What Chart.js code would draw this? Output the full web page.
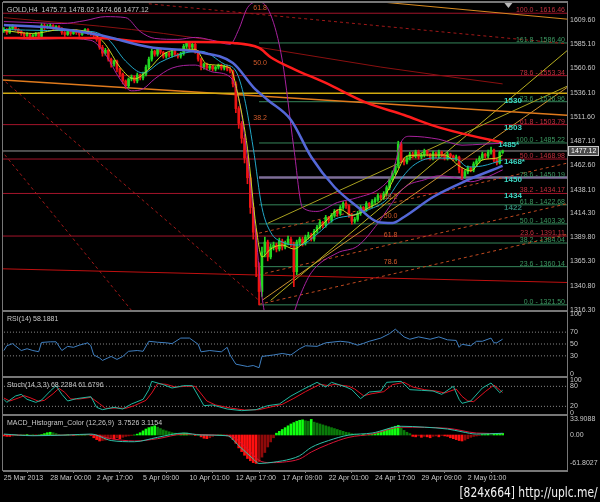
<!DOCTYPE html>
<html>
<head>
<meta charset="utf-8">
<script src="https://cdn.jsdelivr.net/npm/chart.js@4.4.1/dist/chart.umd.min.js"></script>
<style>
html, body { margin: 0; padding: 0; background: #000; width: 600px; height: 502px; overflow: hidden; }
canvas { position: absolute; left: 0; }
#wm { position: absolute; right: 2px; top: 484px; color: #f2f2f2; font: 14px "Liberation Sans Narrow", "DejaVu Sans Condensed", sans-serif; transform: scaleX(0.85); transform-origin: right top; white-space: nowrap; }
</style>
</head>
<body>
<canvas id="cMain" width="600" height="318" style="top:0"></canvas>
<canvas id="cRsi" width="600" height="76" style="top:306px"></canvas>
<canvas id="cSto" width="600" height="48" style="top:372px"></canvas>
<canvas id="cMacd" width="600" height="80" style="top:410px"></canvas>
<div id="wm">[824x664] http://uplc.me/</div>
<script>
// ---- data ----
const symbolName = 'GOLD,H4';
const tickBars = [0, 16, 32, 48, 64, 80, 96, 112, 128, 144, 160];
const tickLabels = ['25 Mar 2013', '28 Mar 00:00', '2 Apr 17:00', '5 Apr 09:00', '10 Apr 01:00', '12 Apr 17:00',
  '17 Apr 09:00', '22 Apr 01:00', '24 Apr 17:00', '29 Apr 09:00', '2 May 01:00'];
const priceTicks = [1609.6, 1585.1, 1560.6, 1536.1, 1511.6, 1487.1, 1462.6, 1438.1, 1414.3, 1389.8, 1365.3, 1340.8, 1316.3];

const open = [1599,1600,1597,1601,1603,1600,1598,1596,1594,1595,
 1592,1594,1596,1593,1604,1602,1603,1604,1602,1603,
 1601,1597,1595,1598,1596,1599,1597,1595,1598,1600,
 1597,1596,1594,1590,1582,1576,1579,1570,1565,1568,
 1560,1555,1548,1543,1550,1552,1548,1554,1551,1555,
 1562,1570,1578,1575,1580,1577,1573,1576,1574,1578,
 1575,1573,1576,1583,1586,1582,1585,1578,1570,1562,
 1565,1561,1563,1560,1562,1564,1561,1563,1560,1558,
 1545,1520,1505,1490,1470,1450,1420,1395,1360,1335,
 1375,1385,1370,1380,1382,1378,1386,1380,1384,1388,
 1383,1355,1385,1388,1384,1390,1392,1388,1396,1400,
 1405,1402,1410,1407,1412,1416,1414,1420,1424,1422,
 1412,1406,1408,1414,1420,1418,1424,1422,1426,1428,
 1432,1430,1434,1440,1448,1455,1462,1484,1468,1466,
 1470,1474,1472,1476,1471,1473,1477,1474,1470,1475,
 1472,1476,1473,1470,1474,1472,1469,1471,1458,1452,
 1456,1460,1458,1464,1467,1470,1474,1472,1476,1478,
 1468,1465,1475.71];
const high = [1602,1601,1603,1605,1604,1601,1599,1597,1597,1596,
 1595,1597,1597,1606,1606,1605,1606,1605,1604,1604,
 1602,1598,1599,1599,1600,1600,1598,1599,1601,1601,
 1598,1597,1595,1591,1584,1581,1580,1571,1569,1569,
 1561,1556,1549,1551,1554,1553,1556,1555,1557,1564,
 1572,1580,1579,1582,1581,1578,1577,1577,1579,1579,
 1576,1577,1585,1588,1587,1586,1586,1579,1571,1566,
 1566,1564,1564,1563,1565,1565,1564,1564,1562,1559,
 1547,1522,1507,1493,1472,1453,1424,1398,1364,1380,
 1390,1387,1383,1385,1384,1389,1388,1386,1391,1390,
 1385,1387,1390,1390,1392,1395,1394,1398,1402,1407,
 1406,1412,1411,1414,1418,1418,1422,1426,1426,1423,
 1414,1410,1416,1422,1421,1426,1425,1428,1430,1434,
 1433,1436,1442,1450,1457,1464,1487,1486,1470,1472,
 1476,1476,1478,1478,1475,1479,1478,1475,1477,1476,
 1478,1477,1474,1476,1475,1473,1473,1472,1460,1458,
 1462,1461,1466,1469,1472,1476,1475,1478,1481,1479,
 1470,1477,1478.02];
const low = [1597,1595,1596,1600,1599,1596,1594,1592,1593,1590,
 1591,1593,1591,1592,1600,1601,1602,1600,1601,1599,
 1595,1593,1594,1594,1595,1595,1593,1594,1597,1595,
 1594,1592,1588,1580,1573,1574,1568,1562,1563,1557,
 1552,1545,1540,1541,1548,1546,1546,1549,1549,1553,
 1560,1568,1573,1573,1575,1571,1571,1572,1572,1573,
 1571,1571,1574,1581,1580,1580,1576,1568,1559,1560,
 1559,1559,1558,1558,1560,1559,1559,1558,1556,1542,
 1516,1500,1485,1465,1444,1414,1388,1350,1321.5,1330,
 1370,1366,1368,1377,1375,1376,1377,1378,1382,1380,
 1340,1352,1382,1381,1382,1388,1386,1386,1394,1398,
 1399,1400,1404,1405,1410,1411,1412,1418,1419,1410,
 1403,1404,1406,1412,1415,1416,1419,1420,1424,1426,
 1428,1428,1432,1438,1446,1453,1460,1465,1463,1464,
 1468,1470,1470,1469,1469,1471,1472,1468,1468,1470,
 1470,1471,1468,1468,1470,1467,1467,1455,1449,1450,
 1454,1456,1456,1462,1465,1468,1470,1470,1474,1466,
 1463,1464,1474.66];
const close = [1600,1597,1601,1603,1600,1598,1596,1594,1595,1592,
 1594,1596,1593,1604,1602,1603,1604,1602,1603,1601,
 1597,1595,1598,1596,1599,1597,1595,1598,1600,1597,
 1596,1594,1590,1582,1576,1579,1570,1565,1568,1560,
 1555,1548,1543,1550,1552,1548,1554,1551,1555,1562,
 1570,1578,1575,1580,1577,1573,1576,1574,1578,1575,
 1573,1576,1583,1586,1582,1585,1578,1570,1562,1565,
 1561,1563,1560,1562,1564,1561,1563,1560,1558,1545,
 1520,1505,1490,1470,1450,1420,1395,1360,1335,1375,
 1385,1370,1380,1382,1378,1386,1380,1384,1388,1383,
 1355,1385,1388,1384,1390,1392,1388,1396,1400,1405,
 1402,1410,1407,1412,1416,1414,1420,1424,1422,1412,
 1406,1408,1414,1420,1418,1424,1422,1426,1428,1432,
 1430,1434,1440,1448,1455,1462,1484,1468,1466,1470,
 1474,1472,1476,1471,1473,1477,1474,1470,1475,1472,
 1476,1473,1470,1474,1472,1469,1471,1458,1452,1456,
 1460,1458,1464,1467,1470,1474,1472,1476,1478,1468,
 1465,1475.71,1477.12];

// moving averages and bands, [bar, price] as read
const maBlue = [[0,1604.5],[17,1601.5],[33,1594.4],[50,1582.3],[67,1577.2],[79,1566.1],[86,1541.8],[91,1528.7],[99,1508.5],
  [106,1471],[114,1440.7],[122,1420.5],[129,1405.3],[134,1404.3],[138,1410.4],[148,1430.6],[160,1447.8],[172,1462]];
const maRed = [[0,1591.4],[33,1591.4],[50,1587.3],[67,1587.3],[79,1586.3],[88,1581.3],[92,1572],[100,1560],[111,1546],
  [125,1526],[138,1513.5],[150,1501],[170,1487],[172,1486]];
const maYellow = [[0,1599],[10,1596],[20,1600],[30,1597],[35,1585],[40,1562],[45,1550],[50,1560],[55,1575],[62,1580],[66,1580],
  [70,1565],[78,1561],[81,1530],[84,1480],[87,1400],[89,1370],[92,1378],[96,1382],[100,1378],[104,1386],[110,1403],[116,1418],
  [120,1412],[126,1420],[131,1430],[135,1452],[139,1472],[145,1473],[152,1473],[157,1462],[161,1457],[165,1468],[170,1470],[172,1473]];
const maCyan = [[0,1600],[15,1599],[30,1598],[36,1590],[42,1568],[48,1556],[54,1567],[62,1576],[68,1578],[76,1565],[80,1558],
  [83,1530],[86,1480],[89,1420],[92,1395],[96,1385],[102,1382],[108,1393],[114,1408],[120,1412],[126,1418],[132,1428],[136,1445],
  [141,1462],[148,1470],[156,1469],[160,1461],[165,1462],[172,1468]];
const maSlow = [[0,1612],[44,1600],[88,1582],[130,1562],[172,1545]];
const bbUpper = [[0,1608],[10,1607],[20,1606],[28,1609],[35,1613],[42,1612],[47,1598],[52,1591],[60,1590],[66,1592],[72,1589],
  [78,1585],[81,1600],[84,1622],[88,1628],[92,1615],[96,1569],[100,1480],[103,1420],[108,1416],[115,1425],[122,1430],[130,1440],
  [134,1455],[137,1486],[140,1492],[150,1489],[158,1483],[165,1484],[172,1485]];
const bbLower = [[0,1592],[10,1590],[20,1591],[30,1589],[35,1575],[40,1550],[44,1538],[48,1540],[52,1550],[58,1561],[66,1564],
  [72,1557],[78,1552],[81,1530],[84,1470],[87,1390],[89,1330],[92,1295],[98,1300],[102,1330],[106,1354],[115,1374],[122,1381],
  [129,1404],[134,1425],[138,1440],[145,1448],[150,1452],[156,1450],[161,1446],[166,1450],[172,1458]];

// drawn objects
const fibRedPct = [100, 78.6, 61.8, 50, 38.2, 23.6];
const fibRedPrice = [1616.46, 1553.34, 1503.79, 1468.98, 1434.17, 1391.11];
const fibGreenPct = [161.8, 23.6, 100, 78.6, 61.8, 50, 38.2, 23.6, 0];
const fibGreenPrice = [1586.40, 1526.96, 1485.22, 1450.19, 1422.68, 1403.36, 1384.04, 1360.14, 1321.50];
const fibTopPct = ['61.8', '50.0', '38.2'];
const fibTopPrice = [1618, 1562, 1506.4];
const fibInnerPct = ['38.2', '50.0', '61.8', '78.6'];
const fibInnerPrice = [1422.68, 1403.36, 1384.04, 1356.53];
const pivotText = ['1530', '1503', '1485*', '1468*', '1450', '1434', '1422'];
const pivotPrice = [1530, 1503, 1485, 1468, 1450, 1434, 1422];
const goldLine = [[-1, 1535.6], [196, 1535.6]];
const orangeLine = [[-1, 1549], [196, 1513]];
const orangeTop = [[100, 1636], [196, 1610]];
const redLow = [[-1, 1358], [196, 1344]];
const redDashDown1 = [[-1, 1551], [88, 1326]];
const redDashDown2 = [[-1, 1478], [44, 1316]];
const redDashTop = [[50, 1626], [196, 1585]];
const yellowRay = [[92, 1326], [196, 1583]];
const chanUpper = [[91, 1404], [196, 1545]];
const chanLower = [[89, 1326], [196, 1545]];
const dashChan = [[[88, 1394], [196, 1466]], [[88, 1352], [196, 1425]], [[88, 1322], [196, 1394]]];

// oscillators
const rsiPts = [[0,39],[1,47],[3,50.6],[6,39],[8,42],[10,39],[12,37],[13,52.6],[16,53.7],[18,53.7],[20,39],[22,46],[24,44.4],
  [26,48],[29,52],[30,47],[31,31.5],[33,26.5],[34,22.3],[37,29],[39,24],[41,29],[43,37.7],[46,39],[48,37.7],[50,54.6],[53,53],
  [56,52],[58,50.6],[61,60],[64,60],[67,49.5],[68,36.8],[71,39],[75,36.8],[77,44.4],[78,31.5],[80,16],[84,12],[86,13.7],[88,10],
  [89,29],[93,31.5],[96,34],[99,31.5],[102,42],[104,47],[108,46],[111,52],[116,54.6],[119,53],[122,48],[124,51],[126,54.6],
  [130,60],[133,67.5],[135,75],[138,62],[140,58],[143,62],[147,58],[150,62],[153,57],[156,56],[157,44.4],[158,49.5],[161,47],
  [163,54.6],[165,54.6],[168,60],[169,52],[170,52],[172,58.1881]];
const rsiLevels = [70, 50, 30];
const stoK = [[0,41],[1,32],[4,51],[6,56],[8,41],[11,32],[13,39],[16,66],[18,82],[20,56],[22,36],[25,43],[30,49],[32,17],[34,10],
  [38,17],[41,12],[44,27],[48,41],[50,70],[51,95],[55,85],[58,75],[62,82],[65,82],[69,22],[72,24],[77,12],[82,7],[87,10],[91,22],
  [95,27],[99,51],[103,70],[108,92],[111,78],[113,92],[118,78],[120,70],[123,43],[126,63],[130,66],[132,92],[137,95],[140,70],
  [144,68],[148,66],[151,56],[155,80],[157,41],[158,29],[161,36],[165,75],[168,90],[171,61],[172,68.2284]];
const stoD = [[0,45],[2,36],[5,45],[7,52],[9,46],[12,35],[14,38],[17,58],[19,74],[21,62],[23,42],[26,42],[30,47],[33,28],[35,14],
  [39,15],[42,14],[45,22],[49,38],[51,60],[53,88],[56,86],[59,78],[63,80],[66,80],[70,36],[73,24],[78,15],[83,9],[88,10],[92,18],
  [96,26],[100,44],[104,64],[109,86],[112,82],[114,86],[119,80],[121,72],[124,52],[127,58],[131,64],[134,85],[138,92],[141,78],
  [145,70],[149,66],[152,60],[156,72],[158,50],[160,36],[162,34],[166,64],[169,84],[172,61.6796]];
const stoLevels = [80, 20];
const macdHist = [-2,-3,-3,-2, 0,-1,0,0,1,0,0,-1,0,1, 3,5,6,5,3, 1,0,0,1,0,-1,0,0,1,1,0,-1, -6,-10,-13,-12,-11,-9,
  -7,-9,-6,-8,-5,-3, -2,-1,0,2, 5,9,13,16,18,20, 17,14,11,9,7,5,4,2, 3,4,4,2, 0,-1,0, -4,-7,-8,-6,-3, -1,0,0,-1,-2,
  -4,-10,-18,-28,-36,-44,-51,-56,-60,-61.8, -58,-48,-38,-26,-15,-6, 4,8,12,16,20,24,27,30,32,33, 31,30,33.9,28,
  26,24,22,20,18,16,14,12,10,8,6,5,3,2,1, 0,1,0,1,2, 3,5,7,9,12,14,17,19,21, 15,10,6,3,
  -3,-4,-2,-5,-3,-4,-6,-3,-2,-4, -1,-2,-3, -6,-8,-10,-12,-13,-11,-8, -5,-3,-2,-1, 1,1,2,1,2,3,3,3.75];
const macdMain = [[0,2],[10,-1.5],[22,0],[30,2],[37,-12],[45,-14.6],[53,-5],[62,4.3],[68,0],[77,-1.5],[81,-23],[86,-52],
  [88,-61.8],[93,-59],[99,-52],[102,-45],[106,-27],[112,-12],[119,0],[127,4.3],[137,19],[145,17],[153,13],[158,7],[163,2],[172,3.7526]];
const macdSignal = [[0,1],[10,-1],[22,0],[30,1],[37,-8],[45,-13],[53,-8],[62,2],[68,1],[77,-1],[78,-1.5],[84,-30],[88,-55],
  [92,-60],[96,-59],[102,-52],[106,-37],[112,-20],[119,-5],[127,2],[137,17],[153,14.6],[163,4.3],[172,3.1154]];
const macdTicks = [33.9088, 0, -61.8027];
const macdTickLabels = ['33.9088', '0.00', '-61.8027'];

// ---- helpers ----
const X_MIN = -0.3, X_MAX = 194.2;
const n = close.length;
const FONT = 'Liberation Sans';
const xy = pairs => pairs.map(p => ({x: p[0], y: p[1]}));
const level = (price, from) => [{x: from, y: price}, {x: 196, y: price}];
function line(data, color, width, extra) {
  return Object.assign({type: 'line', data: data, borderColor: color, borderWidth: width, pointRadius: 0,
    fill: false, tension: 0, order: 20}, extra || {});
}
function smooth(pairs, color, width, order) {
  return line(xy(pairs), color, width, {cubicInterpolationMode: 'monotone', order: order});
}
function hiddenX() { return {type: 'linear', min: X_MIN, max: X_MAX, offset: false, display: false}; }
function rightAxis(min, max, ticks, fmt) {
  return {
    position: 'right', min: min, max: max,
    afterBuildTicks: s => { s.ticks = ticks.map(v => ({value: v})); },
    afterFit: s => { s.width = 33; s.paddingTop = 0; s.paddingBottom = 0; },
    grid: {display: false, drawTicks: false}, border: {display: false},
    ticks: {autoSkip: false, padding: 3, color: '#c8c8c8', font: {family: FONT, size: 7}, callback: fmt}
  };
}
const framePlugin = {
  id: 'frame',
  afterDraw(chart) {
    const {ctx, chartArea: a} = chart;
    ctx.save();
    ctx.strokeStyle = '#777';
    ctx.lineWidth = 2;
    ctx.beginPath();
    ctx.moveTo(a.left, a.top - 1); ctx.lineTo(a.right + 1, a.top - 1);
    ctx.moveTo(a.left, a.bottom + 1); ctx.lineTo(a.right + 1, a.bottom + 1);
    ctx.stroke();
    ctx.lineWidth = 1;
    ctx.beginPath();
    ctx.moveTo(a.left - 0.5, a.top - 1); ctx.lineTo(a.left - 0.5, a.bottom + 1);
    ctx.moveTo(a.right + 0.5, a.top - 1); ctx.lineTo(a.right + 0.5, a.bottom + 1);
    ctx.stroke();
    ctx.restore();
  }
};
function titlePlugin(text) {
  return {
    id: 'title' + Math.random(),
    afterDraw(chart) {
      const {ctx, chartArea: a} = chart;
      ctx.save();
      ctx.font = '7px "' + FONT + '"';
      ctx.fillStyle = '#c8c8c8';
      ctx.textBaseline = 'middle';
      ctx.fillText(text, a.left + 4, a.top + 7);
      ctx.restore();
    }
  };
}
Chart.defaults.animation = false;
Chart.defaults.plugins.legend.display = false;
Chart.defaults.plugins.tooltip.enabled = false;
Chart.defaults.events = [];

// ---- main price window ----
const candleColor = close.map((c, i) => c >= open[i] ? '#22d822' : '#ee1414');
const mainSets = [];
fibRedPrice.forEach(p => mainSets.push(line(level(p, -1), '#a3142a', 1, {order: 40})));
fibGreenPrice.forEach((p, i) => {
  const lav = fibGreenPct[i] === 78.6;
  mainSets.push(line(level(p, 88), lav ? '#7e6e98' : '#35855a', lav ? 2.5 : 1, {order: 40}));
});
mainSets.push(line(xy(goldLine), '#d2aa10', 1.5, {order: 35}));
mainSets.push(line(xy(orangeLine), '#e07a1c', 1.5, {order: 35}));
mainSets.push(line(xy(orangeTop), '#d88a20', 1, {order: 35}));
mainSets.push(line(xy(redLow), '#c01010', 1, {order: 35}));
mainSets.push(line(xy(redDashDown1), '#a01818', 1, {order: 35, borderDash: [3, 3]}));
mainSets.push(line(xy(redDashDown2), '#a01818', 1, {order: 35, borderDash: [3, 3]}));
mainSets.push(line(xy(redDashTop), '#a01818', 1, {order: 35, borderDash: [3, 3]}));
mainSets.push(line(xy(yellowRay), '#b8b020', 1, {order: 35}));
mainSets.push(line(xy(chanUpper), '#a8a020', 1, {order: 35}));
mainSets.push(line(xy(chanLower), '#c89030', 1, {order: 35}));
dashChan.forEach(seg => mainSets.push(line(xy(seg), '#c04a20', 1, {order: 35, borderDash: [3, 3]})));
mainSets.push(line(level(close[n - 1], -1), '#9a9a9a', 1, {order: 34}));
mainSets.push({type: 'bar', data: low.map((l, i) => ({x: i, y: [l, high[i]]})), backgroundColor: candleColor,
  barThickness: 1, grouped: false, order: 12});
mainSets.push({type: 'bar', data: open.map((o, i) => ({x: i, y: [o, close[i]]})), backgroundColor: candleColor,
  barThickness: 2, minBarLength: 1, grouped: false, order: 11});
mainSets.push(smooth(maSlow, '#8a1010', 1, 8));
mainSets.push(smooth(bbUpper, '#a8229e', 1, 7));
mainSets.push(smooth(bbLower, '#a8229e', 1, 7));
mainSets.push(smooth(maCyan, '#22a8c8', 1, 4));
mainSets.push(smooth(maYellow, '#c8d820', 1, 3));
mainSets.push(smooth(maRed, '#ff1c1c', 2.5, 2));
mainSets.push(smooth(maBlue, '#5468d8', 2.5, 1));

const mainText = {
  id: 'mainText',
  afterDraw(chart) {
    const {ctx, chartArea: a, scales: {x, y}} = chart;
    ctx.save();
    ctx.font = '7px "' + FONT + '"';
    ctx.fillStyle = '#c8c8c8';
    ctx.textBaseline = 'middle';
    ctx.fillText(symbolName + '  ' + [open[n - 1], high[n - 1], low[n - 1], close[n - 1]].map(v => v.toFixed(2)).join(' '),
      a.left + 4, a.top + 7);
    ctx.textBaseline = 'alphabetic';
    ctx.textAlign = 'right';
    ctx.fillStyle = '#c4303e';
    fibRedPct.forEach((p, i) => ctx.fillText(p.toFixed(1) + ' - ' + fibRedPrice[i].toFixed(2), a.right - 2, y.getPixelForValue(fibRedPrice[i]) - 1));
    ctx.fillStyle = '#3c9a62';
    fibGreenPct.forEach((p, i) => ctx.fillText(p.toFixed(1) + ' - ' + fibGreenPrice[i].toFixed(2), a.right - 2, y.getPixelForValue(fibGreenPrice[i]) - 1));
    ctx.textAlign = 'left';
    ctx.fillStyle = '#d25a2a';
    fibTopPct.forEach((t, i) => ctx.fillText(t, x.getPixelForValue(86), y.getPixelForValue(fibTopPrice[i]) - 2));
    fibInnerPct.forEach((t, i) => ctx.fillText(t, x.getPixelForValue(131), y.getPixelForValue(fibInnerPrice[i]) - 6));
    ctx.font = 'bold 8px "' + FONT + '"';
    ctx.textBaseline = 'middle';
    pivotText.forEach((t, i) => {
      ctx.fillStyle = i === pivotText.length - 1 ? '#2f8070' : '#3cd8c4';
      ctx.fillText(t, x.getPixelForValue(i === 2 ? 170.5 : 172.5), y.getPixelForValue(pivotPrice[i]) + 2);
    });
    // current price box
    const py = y.getPixelForValue(close[n - 1]);
    ctx.fillStyle = '#4c4c4c';
    ctx.strokeStyle = '#c8c8c8';
    ctx.lineWidth = 1;
    ctx.fillRect(a.right + 1, py - 5, 31, 10);
    ctx.strokeRect(a.right + 1.5, py - 4.5, 30, 9);
    ctx.font = '7px "' + FONT + '"';
    ctx.fillStyle = '#ffffff';
    ctx.fillText(close[n - 1].toFixed(2), a.right + 4, py);
    // shift marker
    const tx = x.getPixelForValue(174);
    ctx.fillStyle = '#b8b8b8';
    ctx.beginPath();
    ctx.moveTo(tx - 4, a.top); ctx.lineTo(tx + 4, a.top); ctx.lineTo(tx, a.top + 5); ctx.closePath();
    ctx.fill();
    ctx.restore();
  }
};

new Chart(document.getElementById('cMain'), {
  type: 'bar',
  data: {datasets: mainSets},
  options: {
    responsive: false,
    layout: {padding: {left: 3, top: 3, bottom: 8, right: 0}},
    scales: {
      x: hiddenX(),
      y: rightAxis(1316.3, 1626.8, priceTicks, v => v.toFixed(2))
    }
  },
  plugins: [framePlugin, mainText]
});

// ---- RSI ----
new Chart(document.getElementById('cRsi'), {
  type: 'line',
  data: {datasets: rsiLevels.map(v => line(level(v, -1), '#8a8a8a', 1, {borderDash: [1, 2]}))
    .concat([line(xy(rsiPts), '#3f7fc0', 1, {order: 1})])},
  options: {
    responsive: false,
    layout: {padding: {left: 3, top: 6, bottom: 6, right: 0}},
    scales: {x: hiddenX(), y: rightAxis(-4, 104, [100, 70, 50, 30, 0], v => String(v))}
  },
  plugins: [framePlugin, titlePlugin('RSI(14) ' + rsiPts[rsiPts.length - 1][1].toFixed(4))]
});

// ---- Stochastic ----
new Chart(document.getElementById('cSto'), {
  type: 'line',
  data: {datasets: stoLevels.map(v => line(level(v, -1), '#8a8a8a', 1, {borderDash: [1, 2]}))
    .concat([line(xy(stoD), '#e01020', 1, {order: 2}), line(xy(stoK), '#20b8a0', 1, {order: 1})])},
  options: {
    responsive: false,
    layout: {padding: {left: 3, top: 6, bottom: 6, right: 0}},
    scales: {x: hiddenX(), y: rightAxis(-3, 105, [100, 80, 20, 0], v => String(v))}
  },
  plugins: [framePlugin, titlePlugin('Stoch(14,3,3) ' + stoK[stoK.length - 1][1].toFixed(4) + ' ' + stoD[stoD.length - 1][1].toFixed(4))]
});

// ---- MACD histogram ----
const histColor = macdHist.map((v, i) => {
  const prev = i > 0 ? macdHist[i - 1] : 0;
  if (v >= 0) return v >= prev ? '#10ff10' : '#0a7a0a';
  return v <= prev ? '#ff1010' : '#8e0a0a';
});
new Chart(document.getElementById('cMacd'), {
  type: 'bar',
  data: {datasets: [
    {type: 'bar', data: macdHist.map((v, i) => ({x: i, y: v})), backgroundColor: histColor, barThickness: 2, grouped: false, order: 5},
    line(xy(macdSignal), '#d81436', 1, {order: 2, cubicInterpolationMode: 'monotone'}),
    line(xy(macdMain), '#30c0a8', 1, {order: 1, cubicInterpolationMode: 'monotone'})
  ]},
  options: {
    responsive: false,
    layout: {padding: {left: 3, top: 6, bottom: 6, right: 0}},
    scales: {
      x: {
        type: 'linear', min: X_MIN, max: X_MAX, offset: false,
        afterBuildTicks: s => { s.ticks = tickBars.map(v => ({value: v})); },
        afterFit: s => { s.height = 14; s.paddingLeft = 0; s.paddingRight = 0; },
        grid: {display: true, drawOnChartArea: false, drawTicks: true, tickLength: 3, color: '#8a8a8a'},
        border: {display: false},
        ticks: {autoSkip: false, maxRotation: 0, minRotation: 0, align: 'start', padding: 1, color: '#c8c8c8',
          font: {family: FONT, size: 7}, callback: (v, i) => tickLabels[i]}
      },
      y: rightAxis(-76, 41.3, macdTicks, (v, i) => macdTickLabels[i])
    }
  },
  plugins: [framePlugin, titlePlugin('MACD_Histogram_Color (12,26,9)  ' + macdMain[macdMain.length - 1][1].toFixed(4) + ' ' + macdSignal[macdSignal.length - 1][1].toFixed(4))]
});
</script>
</body>
</html>
